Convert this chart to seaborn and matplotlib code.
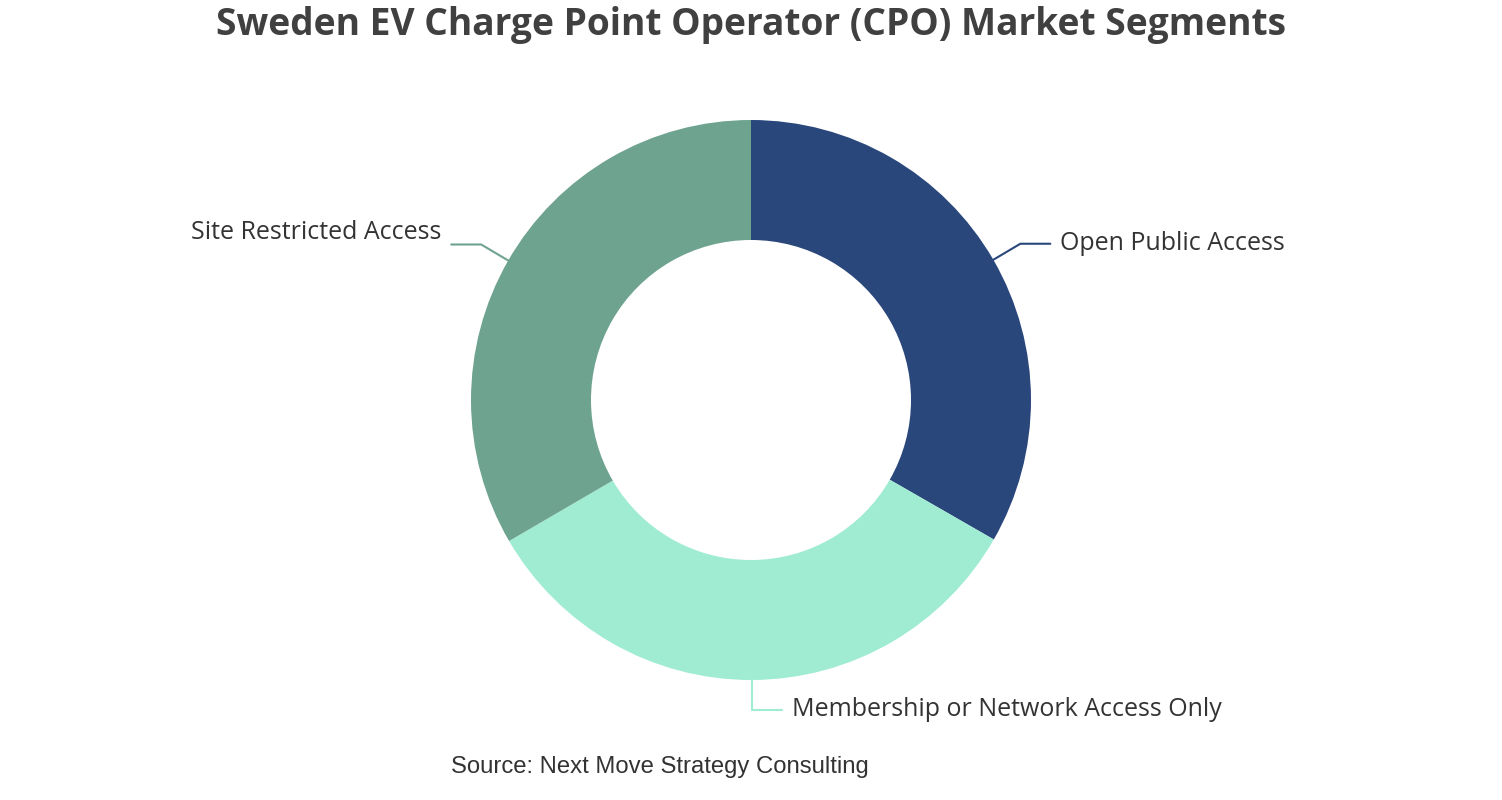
import numpy as np
import matplotlib
matplotlib.use('Agg')
import matplotlib.pyplot as plt
import seaborn as sns

segments = ['Open Public Access', 'Membership or Network Access Only', 'Site Restricted Access']
shares = [33.3, 33.3, 33.4]
colors = ['#2a477c', '#a0ecd2', '#6ea38f']

title = 'Sweden EV Charge Point Operator (CPO) Market Segments'
source = 'Source: Next Move Strategy Consulting'

sns.set_theme(style='white')
plt.rcParams['font.family'] = ['Open Sans', 'DejaVu Sans']

W, H = 1502, 800
fig = plt.figure(figsize=(W / 100, H / 100), dpi=100)
ax = fig.add_axes([0, 0, 1, 1])

# y is measured upward in the axes; pixel rows are converted with H - y
cx, cy, r_out, r_in = 751, H - 400, 280, 160

wedges, _ = ax.pie(shares, colors=colors, startangle=90, counterclock=False,
                   radius=r_out, center=(cx, cy),
                   wedgeprops=dict(width=r_out - r_in, linewidth=0))
ax.set_xlim(0, W)
ax.set_ylim(0, H)
ax.set_aspect('equal')
ax.axis('off')

# leader lines and labels, from wedge mid angles
total = sum(shares)
start = 0.0
for name, val, col in zip(segments, shares, colors):
    mid = start + val / total * 180
    start += val / total * 360
    a = np.deg2rad(mid)
    px, py = cx + r_out * np.sin(a), cy + r_out * np.cos(a)
    if abs(np.sin(a)) < 0.1:
        ex, ey = px, py - 30
        hx = ex + 30
        ax.plot([px, ex, hx], [py, ey, ey], color=col, lw=1.5)
        ax.text(hx + 10, ey, name, ha='left', va='center', fontsize=18, color='#333333')
    else:
        side = 1 if np.sin(a) > 0 else -1
        ex, ey = px + side * 27, py + 16
        hx = ex + side * 30
        ax.plot([px, ex, hx], [py, ey, ey], color=col, lw=1.5)
        ax.text(hx + side * 10, ey + (0 if side > 0 else 12), name,
                ha='left' if side > 0 else 'right',
                va='center', fontsize=18, color='#333333')

ax.text(751, H - 25, title, ha='center', va='center', fontsize=26.7, fontweight='bold', color='#404040')
ax.text(660, H - 767, source, ha='center', va='center', fontsize=17.2, color='#333333',
        family=['Liberation Sans', 'DejaVu Sans'])

fig.savefig('out.png', dpi=100)
